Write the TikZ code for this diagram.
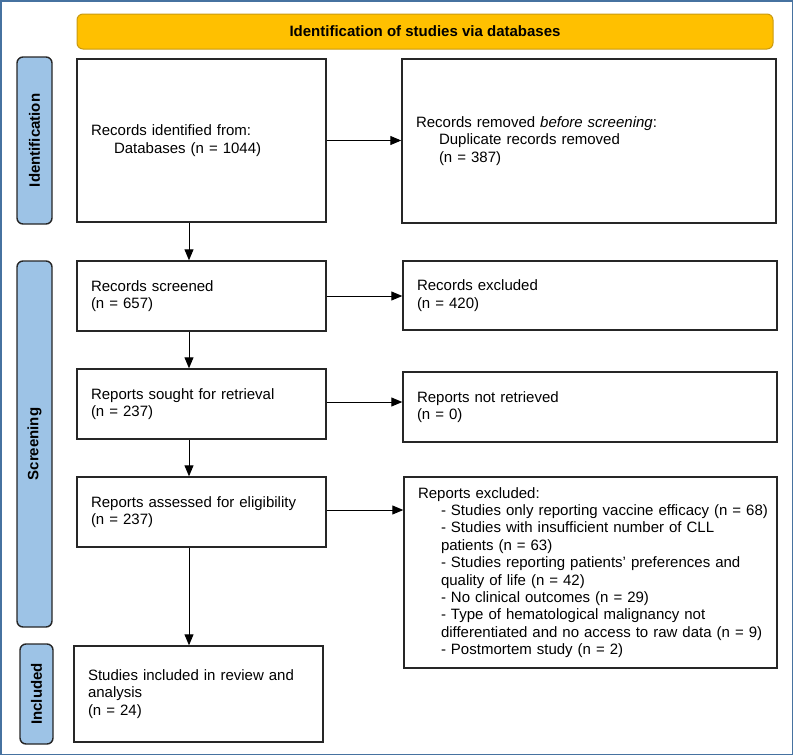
\documentclass[tikz,border=0pt]{standalone}
\usepackage{fontspec}
\setmainfont{Liberation Sans}
\usepackage{tikz}
\usetikzlibrary{arrows.meta}
\usetikzlibrary{positioning}
\usetikzlibrary{calc}
\definecolor{framec}{HTML}{4672A0}
\definecolor{bannerc}{HTML}{FFC000}
\definecolor{bannerd}{HTML}{C99A10}
\definecolor{barc}{HTML}{9DC3E6}
\tikzstyle{box}=[draw=black!85,line width=1.4pt,align=left,inner xsep=14pt,inner ysep=0pt,font=\fontsize{15}{17.4}\selectfont]
\tikzstyle{sidebar}=[draw=black!85,fill=barc,line width=1.4pt,rounded corners=6pt,rotate=90,inner sep=0pt,font=\fontsize{15}{17.4}\selectfont\bfseries]
\tikzstyle{flow}=[line width=0.9pt,-{Triangle[length=11pt,width=9pt]}]

\begin{document}
\begin{tikzpicture}[x=1pt,y=-1pt]
\useasboundingbox (0,0) rectangle (793,755);
\draw [framec,line width=1.5pt] (0.75,0.75) rectangle (792.25,754.25);
% banner
\node [draw=bannerd,fill=bannerc,line width=1pt,rounded corners=6pt,minimum width=696pt,minimum height=35pt,font=\fontsize{15}{17.4}\selectfont\bfseries] (title) at (425,31.5) {Identification of studies via databases};
% phases
\node [sidebar,minimum width=167pt,minimum height=35pt] (idbar) at (34.5,140.5) {Identification};
\node [sidebar,minimum width=366pt,minimum height=35pt] (scrbar) at (34.5,444) {Screening};
\node [sidebar,minimum width=100pt,minimum height=33pt] (incbar) at (36.5,694) {Included};
% left column
\node [box,text width=221pt,minimum height=163pt] (ident) at (201.5,140.5) {Records identified from:\\ \hspace*{23pt}Databases (n = 1044)};
\node [box,text width=221pt,minimum height=70pt] (screened) at (201.5,296) {Records screened\\ (n = 657)};
\node [box,text width=221pt,minimum height=70pt] (sought) at (201.5,404) {Reports sought for retrieval\\ (n = 237)};
\node [box,text width=221pt,minimum height=70pt] (assessed) at (201.5,512) {Reports assessed for eligibility\\ (n = 237)};
\node [box,text width=221pt,minimum height=96pt] (included) at (198.5,694) {Studies included in review and\\ analysis\\ (n = 24)};
% right column
\node [box,text width=346pt,minimum height=164pt] (removed) at (589,141) {Records removed \textit{before screening}:\\ \hspace*{23pt}Duplicate records removed\\ \hspace*{23pt}(n = 387)};
\node [box,text width=346pt,minimum height=69pt] (excluded) at (590,295.5) {Records excluded\\ (n = 420)};
\node [box,text width=346pt,minimum height=70pt] (notretr) at (590,407) {Reports not retrieved\\ (n = 0)};
\node [box,text width=345pt,minimum height=191pt] (repexcl) at (590.5,572.5) {Reports excluded:\\
  \hspace*{23pt}\mbox{- Studies only reporting vaccine efficacy (n = 68)}\\
  \hspace*{23pt}- Studies with insufficient number of CLL\\
  \hspace*{23pt}patients (n = 63)\\
  \hspace*{23pt}- Studies reporting patients’ preferences and\\
  \hspace*{23pt}quality of life (n = 42)\\
  \hspace*{23pt}- No clinical outcomes (n = 29)\\
  \hspace*{23pt}- Type of hematological malignancy not\\
  \hspace*{23pt}\mbox{differentiated and no access to raw data (n = 9)}\\
  \hspace*{23pt}- Postmortem study (n = 2)};
% arrows down
\draw [flow] ([xshift=-12.5pt]ident.south) -- ([xshift=-12.5pt]ident.south |- screened.north);
\draw [flow] ([xshift=-12.5pt]screened.south) -- ([xshift=-12.5pt]screened.south |- sought.north);
\draw [flow] ([xshift=-12.5pt]sought.south) -- ([xshift=-12.5pt]sought.south |- assessed.north);
\draw [flow] ([xshift=-12.5pt]assessed.south) -- ([xshift=-12.5pt]assessed.south |- included.north);
% arrows right
\draw [flow] (ident.east) -- (ident.east -| removed.west);
\draw [flow] (screened.east) -- (screened.east -| excluded.west);
\draw [flow] ([yshift=2pt]sought.east) -- ([yshift=2pt]sought.east -| notretr.west);
\draw [flow] ([yshift=2pt]assessed.east) -- ([yshift=2pt]assessed.east -| repexcl.west);
\end{tikzpicture}
\end{document}
